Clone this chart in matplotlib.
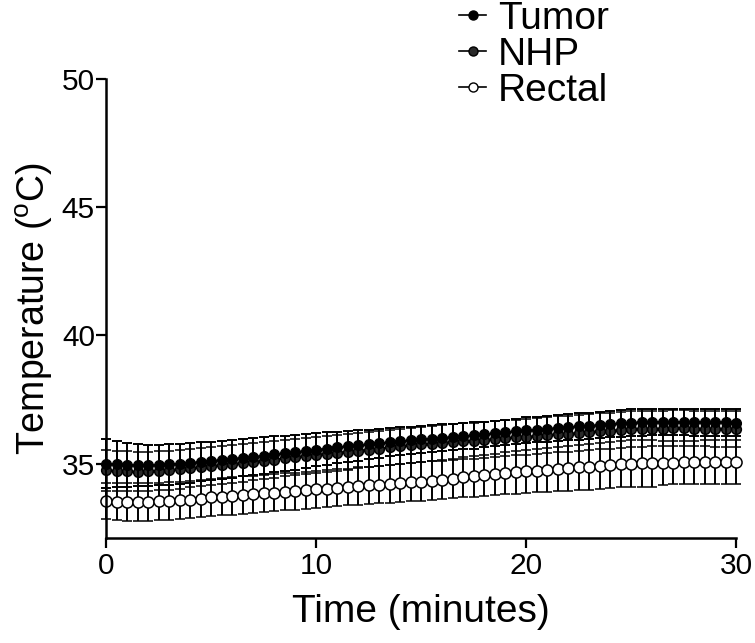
import matplotlib
matplotlib.use('Agg')
import matplotlib.pyplot as plt
from matplotlib.lines import Line2D

plt.rcParams['font.family'] = ['Liberation Sans', 'DejaVu Sans']
plt.rcParams['mathtext.fontset'] = 'custom'
plt.rcParams['mathtext.rm'] = 'Liberation Sans'

# time in minutes, one reading every 30 s
time = [i * 0.5 for i in range(61)]

tumor_mean = [35.00, 34.98, 34.95, 34.93, 34.93, 34.95, 34.97, 35.00, 35.03, 35.07, 35.10,
              35.15, 35.19, 35.23, 35.27, 35.31, 35.36, 35.40, 35.45, 35.50, 35.55,
              35.59, 35.63, 35.67, 35.71, 35.75, 35.79, 35.83, 35.87, 35.91, 35.95,
              35.98, 36.01, 36.04, 36.07, 36.10, 36.14, 36.18, 36.22, 36.26, 36.30,
              36.33, 36.36, 36.39, 36.42, 36.45, 36.48, 36.51, 36.54, 36.57, 36.60,
              36.61, 36.62, 36.62, 36.63, 36.63, 36.62, 36.62, 36.61, 36.61, 36.60]
tumor_sd = [0.95, 0.90, 0.85, 0.82, 0.80, 0.79, 0.79, 0.78, 0.77, 0.76, 0.75,
            0.75, 0.74, 0.73, 0.72, 0.71, 0.70, 0.69, 0.68, 0.67, 0.66,
            0.64, 0.62, 0.61, 0.59, 0.58, 0.57, 0.55, 0.54, 0.53, 0.52,
            0.52, 0.52, 0.51, 0.51, 0.51, 0.50, 0.50, 0.50, 0.50, 0.50,
            0.50, 0.50, 0.50, 0.51, 0.51, 0.51, 0.52, 0.52, 0.52, 0.52,
            0.52, 0.52, 0.52, 0.52, 0.52, 0.53, 0.53, 0.53, 0.53, 0.53]

nhp_mean = [34.75, 34.72, 34.70, 34.69, 34.70, 34.72, 34.75, 34.78, 34.82, 34.86, 34.90,
            34.94, 34.98, 35.03, 35.07, 35.12, 35.16, 35.21, 35.25, 35.30, 35.35,
            35.39, 35.43, 35.47, 35.51, 35.55, 35.59, 35.63, 35.67, 35.71, 35.75,
            35.78, 35.81, 35.84, 35.87, 35.90, 35.93, 35.96, 35.99, 36.02, 36.05,
            36.08, 36.11, 36.14, 36.17, 36.20, 36.23, 36.26, 36.29, 36.32, 36.35,
            36.36, 36.37, 36.37, 36.38, 36.38, 36.37, 36.37, 36.36, 36.36, 36.35]
nhp_sd = [0.80, 0.79, 0.78, 0.77, 0.77, 0.76, 0.76, 0.75, 0.75, 0.74, 0.74,
          0.74, 0.73, 0.73, 0.72, 0.72, 0.72, 0.71, 0.71, 0.70, 0.70,
          0.70, 0.70, 0.70, 0.69, 0.69, 0.69, 0.69, 0.69, 0.69, 0.69,
          0.69, 0.69, 0.69, 0.70, 0.70, 0.70, 0.70, 0.70, 0.70, 0.70,
          0.70, 0.70, 0.70, 0.70, 0.70, 0.70, 0.70, 0.70, 0.70, 0.70,
          0.70, 0.70, 0.70, 0.70, 0.70, 0.70, 0.70, 0.70, 0.70, 0.70]

rectal_mean = [33.55, 33.52, 33.50, 33.50, 33.51, 33.53, 33.55, 33.57, 33.60, 33.64, 33.68,
               33.71, 33.74, 33.77, 33.80, 33.84, 33.87, 33.90, 33.93, 33.97, 34.00,
               34.03, 34.06, 34.09, 34.12, 34.15, 34.18, 34.21, 34.24, 34.27, 34.30,
               34.34, 34.38, 34.42, 34.46, 34.50, 34.54, 34.58, 34.62, 34.66, 34.70,
               34.73, 34.76, 34.79, 34.82, 34.85, 34.88, 34.91, 34.94, 34.97, 35.00,
               35.01, 35.02, 35.03, 35.04, 35.05, 35.05, 35.06, 35.06, 35.07, 35.07]
rectal_sd = [0.70, 0.72, 0.73, 0.73, 0.73, 0.73, 0.73, 0.73, 0.73, 0.73, 0.73,
             0.73, 0.73, 0.73, 0.73, 0.73, 0.73, 0.72, 0.72, 0.72, 0.72,
             0.72, 0.72, 0.72, 0.73, 0.73, 0.73, 0.74, 0.74, 0.74, 0.75,
             0.75, 0.76, 0.77, 0.78, 0.79, 0.80, 0.81, 0.82, 0.83, 0.84,
             0.85, 0.86, 0.87, 0.88, 0.89, 0.90, 0.90, 0.90, 0.90, 0.91,
             0.91, 0.92, 0.86, 0.85, 0.85, 0.85, 0.85, 0.86, 0.86, 0.87]

fig = plt.figure(figsize=(7.55, 6.43), dpi=100)
ax = fig.add_axes([106 / 755, 105 / 643, 630 / 755, 459 / 643])

common = dict(color='black', ecolor='black', elinewidth=1.4, capsize=3.9, capthick=1.4,
              linewidth=1.2, clip_on=False)

ax.errorbar(time, rectal_mean, yerr=rectal_sd, fmt='-o', markersize=8,
            markerfacecolor='white', markeredgecolor='black', markeredgewidth=1.1,
            zorder=2, **common)
ax.errorbar(time, nhp_mean, yerr=nhp_sd, fmt='-o', markersize=7,
            markerfacecolor='#2a2a2a', markeredgecolor='black', markeredgewidth=1.1,
            zorder=3, **common)
ax.errorbar(time, tumor_mean, yerr=tumor_sd, fmt='-o', markersize=7,
            markerfacecolor='black', markeredgecolor='black',
            zorder=4, **common)

ax.set_xlim(0, 30)
ax.set_ylim(32.1, 50)
ax.set_xticks([0, 10, 20, 30])
ax.set_yticks([35, 40, 45, 50])
ax.spines['top'].set_visible(False)
ax.spines['right'].set_visible(False)
ax.spines['left'].set_linewidth(1.8)
ax.spines['bottom'].set_linewidth(1.8)
ax.tick_params(direction='out', length=7, width=1.6, labelsize=21.5)
ax.tick_params(axis='y', pad=1)
ax.tick_params(axis='x', pad=3)

ax.set_xlabel('Time (minutes)', fontsize=28, labelpad=10)
ax.set_ylabel('Temperature ($\\mathrm{^{o}}$C)', fontsize=27, labelpad=5)

handles = [
    Line2D([], [], color='black', lw=1.2, marker='o', markersize=6.5, markerfacecolor='black'),
    Line2D([], [], color='black', lw=1.2, marker='o', markersize=6.5, markerfacecolor='#2a2a2a'),
    Line2D([], [], color='black', lw=1.2, marker='o', markersize=6.5, markerfacecolor='white'),
]
fig.legend(handles, ['Tumor', 'NHP', 'Rectal'], loc='upper left',
           bbox_to_anchor=(459 / 755, 1 - 1 / 643), frameon=False, fontsize=28,
           handlelength=0.7, handletextpad=0.3, labelspacing=0.0, borderpad=0,
           borderaxespad=0)

fig.savefig('out.png', dpi=100)
